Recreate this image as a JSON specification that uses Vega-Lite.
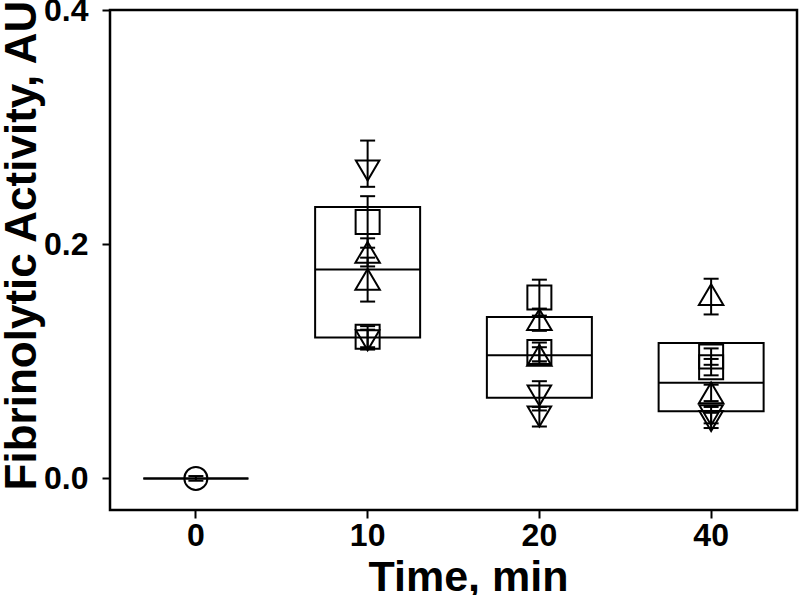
{
  "$schema": "https://vega.github.io/schema/vega-lite/v6.json",
  "width": 687,
  "height": 500,
  "autosize": {"type": "none"},
  "padding": {"left": 110, "top": 10, "right": 3, "bottom": 85},
  "background": "white",
  "config": {
    "view": {"stroke": "black", "strokeWidth": 2.5},
    "font": "Liberation Sans",
    "axis": {
      "grid": false,
      "domain": false,
      "tickColor": "black",
      "tickWidth": 2,
      "labelColor": "black",
      "labelFont": "Liberation Sans",
      "labelFontWeight": "bold",
      "labelFontSize": 32,
      "titleFont": "Liberation Sans",
      "titleFontWeight": "bold",
      "titleFontSize": 44,
      "titleColor": "black"
    }
  },
  "datasets": {
    "boxes": [
      {"time": "0", "q1": 0, "med": 0, "q3": 0},
      {"time": "10", "q1": 0.1203, "med": 0.1783, "q3": 0.2317},
      {"time": "20", "q1": 0.0688, "med": 0.1051, "q3": 0.1379},
      {"time": "40", "q1": 0.0574, "med": 0.0816, "q3": 0.1157}
    ],
    "points": [
      {"time": "0", "series": "C", "value": 0, "lo": -0.002, "hi": 0.002},
      {"time": "10", "series": "S1", "value": 0.263, "lo": 0.249, "hi": 0.2885},
      {"time": "10", "series": "S2", "value": 0.219, "lo": 0.197, "hi": 0.241},
      {"time": "10", "series": "S3", "value": 0.193, "lo": 0.181, "hi": 0.205},
      {"time": "10", "series": "S3", "value": 0.170, "lo": 0.151, "hi": 0.1885},
      {"time": "10", "series": "S2", "value": 0.121, "lo": 0.112, "hi": 0.130},
      {"time": "10", "series": "S1", "value": 0.118, "lo": 0.110, "hi": 0.127},
      {"time": "20", "series": "S2", "value": 0.1544, "lo": 0.139, "hi": 0.1697},
      {"time": "20", "series": "S3", "value": 0.1356, "lo": 0.126, "hi": 0.145},
      {"time": "20", "series": "S2", "value": 0.108, "lo": 0.100, "hi": 0.116},
      {"time": "20", "series": "S3", "value": 0.105, "lo": 0.098, "hi": 0.112},
      {"time": "20", "series": "S1", "value": 0.0707, "lo": 0.058, "hi": 0.083},
      {"time": "20", "series": "S1", "value": 0.0528, "lo": 0.0443, "hi": 0.061},
      {"time": "40", "series": "S3", "value": 0.157, "lo": 0.140, "hi": 0.1705},
      {"time": "40", "series": "S2", "value": 0.104, "lo": 0.097, "hi": 0.111},
      {"time": "40", "series": "S2", "value": 0.095, "lo": 0.088, "hi": 0.102},
      {"time": "40", "series": "S3", "value": 0.073, "lo": 0.066, "hi": 0.080},
      {"time": "40", "series": "S1", "value": 0.054, "lo": 0.047, "hi": 0.061},
      {"time": "40", "series": "S1", "value": 0.049, "lo": 0.043, "hi": 0.056}
    ]
  },
  "encoding": {
    "x": {
      "field": "time",
      "type": "ordinal",
      "sort": ["0", "10", "20", "40"],
      "scale": {"type": "band", "paddingInner": 0, "paddingOuter": 0},
      "axis": {
        "title": "Time, min",
        "labelAngle": 0,
        "labelFontSize": 32,
        "labelFontWeight": "bold",
        "tickSize": 8,
        "labelPadding": 2,
        "titleFontSize": 43,
        "titleX": 358,
        "titleY": 80,
        "titleAlign": "center",
        "titleBaseline": "alphabetic"
      }
    }
  },
  "layer": [
    {
      "data": {"name": "boxes"},
      "mark": {"type": "bar", "width": 105, "fill": "white", "fillOpacity": 0, "stroke": "black", "strokeWidth": 2},
      "encoding": {
        "y": {
          "field": "q1",
          "type": "quantitative",
          "scale": {"domain": [-0.027, 0.4], "nice": false, "zero": false},
          "axis": {
            "title": "Fibrinolytic Activity, AU",
            "values": [0, 0.2, 0.4],
            "format": ".1f",
            "labelFontSize": 32,
            "labelFontWeight": "bold",
            "tickSize": 8,
            "labelPadding": 14,
            "titleFontSize": 44,
            "titleAngle": -90,
            "titleX": -75,
            "titleY": 235,
            "titleAlign": "center",
            "titleBaseline": "alphabetic"
          }
        },
        "y2": {"field": "q3"}
      }
    },
    {
      "data": {"name": "boxes"},
      "mark": {"type": "tick", "orient": "horizontal", "size": 105, "thickness": 2, "color": "black", "opacity": 1},
      "encoding": {"y": {"field": "med", "type": "quantitative"}}
    },
    {
      "data": {"name": "points"},
      "mark": {"type": "rule", "color": "black", "strokeWidth": 2},
      "encoding": {"y": {"field": "lo", "type": "quantitative"}, "y2": {"field": "hi"}}
    },
    {
      "data": {"name": "points"},
      "mark": {"type": "tick", "orient": "horizontal", "size": 15, "thickness": 2, "color": "black", "opacity": 1},
      "encoding": {"y": {"field": "lo", "type": "quantitative"}}
    },
    {
      "data": {"name": "points"},
      "mark": {"type": "tick", "orient": "horizontal", "size": 15, "thickness": 2, "color": "black", "opacity": 1},
      "encoding": {"y": {"field": "hi", "type": "quantitative"}}
    },
    {
      "data": {"name": "points"},
      "mark": {"type": "point", "filled": false, "stroke": "black", "strokeWidth": 2, "opacity": 1},
      "encoding": {
        "y": {"field": "value", "type": "quantitative"},
        "shape": {
          "field": "series",
          "type": "nominal",
          "scale": {"domain": ["C", "S1", "S2", "S3"], "range": ["circle", "M-1,-0.85L1,-0.85L0,0.85Z", "square", "M0,-0.85L1,0.85L-1,0.85Z"]},
          "legend": null
        },
        "size": {
          "field": "series",
          "type": "nominal",
          "scale": {"domain": ["C", "S1", "S2", "S3"], "range": [529, 600, 400, 600]},
          "legend": null
        }
      }
    }
  ]
}
